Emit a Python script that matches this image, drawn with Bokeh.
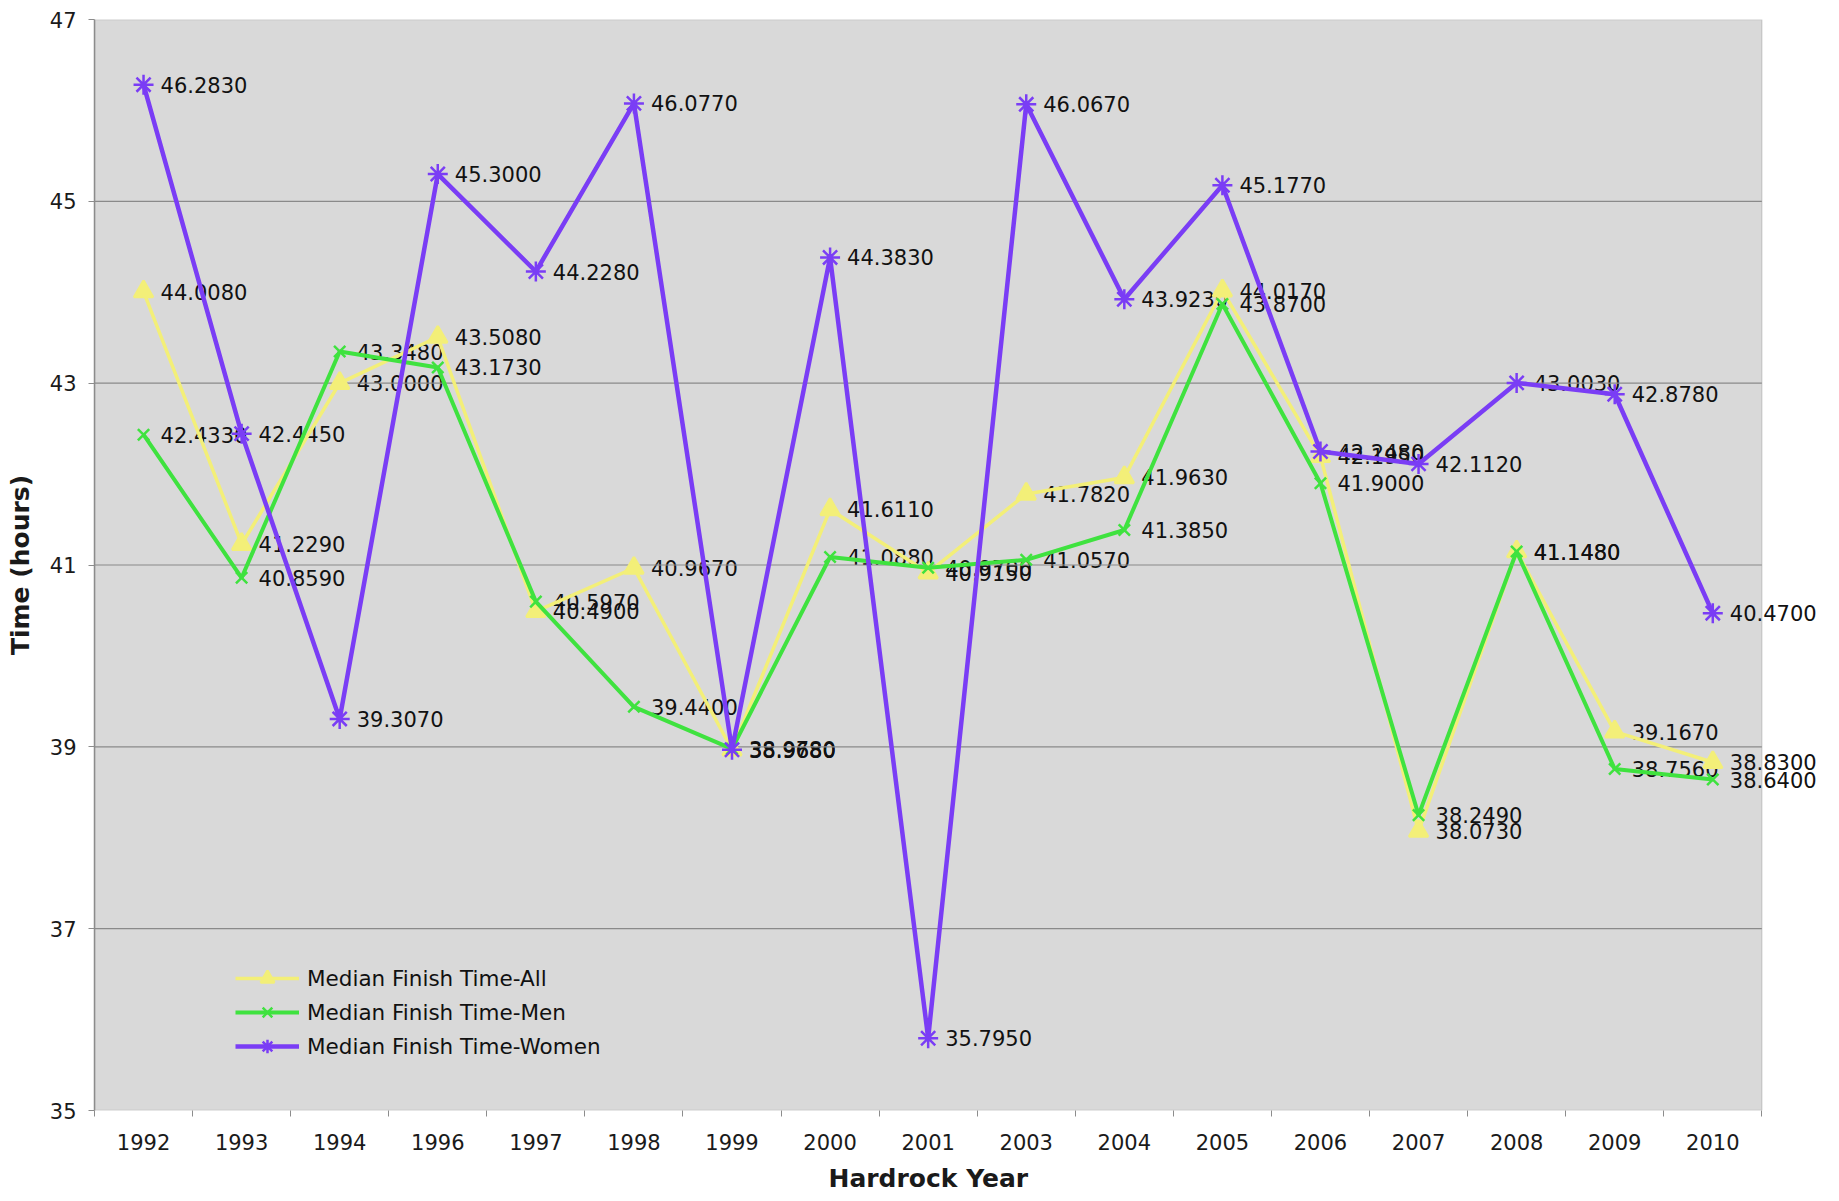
from bokeh.plotting import figure
from bokeh.models import (ColumnDataSource, LabelSet, Legend, LegendItem, Range1d,
                          FixedTicker, BoxAnnotation, Title)
from bokeh.core.properties import value
from bokeh.embed import file_html
from bokeh.resources import INLINE

years = ["1992", "1993", "1994", "1996", "1997", "1998", "1999", "2000", "2001",
         "2003", "2004", "2005", "2006", "2007", "2008", "2009", "2010"]
all_times = [44.008, 41.229, 43.000, 43.508, 40.490, 40.967, 38.968, 41.611, 40.915,
             41.782, 41.963, 44.017, 42.195, 38.073, 41.148, 39.167, 38.830]
men_times = [42.433, 40.859, 43.348, 43.173, 40.597, 39.440, 38.978, 41.088, 40.970,
             41.057, 41.385, 43.870, 41.900, 38.249, 41.148, 38.756, 38.640]
women_times = [46.283, 42.445, 39.307, 45.300, 44.228, 46.077, 38.968, 44.383, 35.795,
               46.067, 43.923, 45.177, 42.248, 42.112, 43.003, 42.878, 40.470]
y_ticks = [35, 37, 39, 41, 43, 45, 47]
y_min, y_max = 35, 47

series = [
    ("Median Finish Time-All", all_times, "#f3ef78", "triangle", 19, 3.5),
    ("Median Finish Time-Men", men_times, "#3fe23f", "x", 16, 4),
    ("Median Finish Time-Women", women_times, "#7a3df5", "asterisk", 20, 4.5),
]

FONT = "DejaVu Sans"
n = len(years)
# category slots: each year occupies one unit, centred on i + 0.5
x_pos = [i + 0.5 for i in range(n)]
x_end = n + 0.69  # extra white room on the right for overflowing value labels

p = figure(width=1835, height=1201, x_range=Range1d(0, x_end),
           y_range=Range1d(y_min, y_max), output_backend="svg", toolbar_location=None,
           min_border_left=94, min_border_right=6, min_border_top=19, min_border_bottom=89)
p.background_fill_color = "white"
p.border_fill_color = "white"
p.outline_line_color = None
p.xgrid.grid_line_color = None
p.ygrid.grid_line_color = None

# grey plot area
p.add_layout(BoxAnnotation(left=0, right=n, bottom=y_min, top=y_max,
                           fill_color="#d9d9d9", fill_alpha=1.0,
                           line_color="#8c8c8c", line_width=1.5, level="underlay"))

# horizontal gridlines only across the grey area
inner = [t for t in y_ticks if y_min < t < y_max]
p.segment(x0=[0] * len(inner), x1=[n] * len(inner), y0=inner, y1=inner,
          line_color="#8a8a8a", line_width=1.2)

p.xaxis.ticker = FixedTicker(ticks=x_pos, minor_ticks=list(range(n + 1)))
p.xaxis.major_label_overrides = {x: y for x, y in zip(x_pos, years)}
p.yaxis.ticker = FixedTicker(ticks=y_ticks)

for ax in (p.xaxis[0], p.yaxis[0]):
    ax.major_label_text_font = FONT
    ax.major_label_text_font_size = "21px"
    ax.major_label_text_color = "#1a1a1a"
    ax.axis_label_text_font = FONT
    ax.axis_label_text_font_style = "bold"
    ax.axis_label_text_font_size = "25px"
    ax.axis_label_text_color = "#1a1a1a"

p.xaxis.axis_line_color = None
p.xaxis.major_tick_line_color = None
p.xaxis.major_tick_out = 0
p.xaxis.major_tick_in = 0
p.xaxis.minor_tick_line_color = "#8c8c8c"
p.xaxis.minor_tick_out = 6
p.xaxis.minor_tick_in = 0
p.xaxis.major_label_standoff = 17

p.yaxis.axis_line_color = "#8c8c8c"
p.yaxis.axis_line_width = 1.5
p.yaxis.minor_tick_line_color = None
p.yaxis.major_tick_line_color = "#8c8c8c"
p.yaxis.major_tick_out = 6
p.yaxis.major_tick_in = 0
p.yaxis.major_label_standoff = 12
p.yaxis.axis_label = "Time (hours)"
p.yaxis.axis_label_standoff = 12

# x-axis title centred under the grey plot area (not the whole frame)
p.add_layout(Title(text="Hardrock Year", align="left", offset=734, standoff=18,
                   text_font=FONT, text_font_style="bold", text_font_size="25px",
                   text_color="#1a1a1a"), "below")

for name, vals, color, marker, size, lw in series:
    src = ColumnDataSource(dict(x=x_pos, val=vals, txt=["%.4f" % v for v in vals]))
    p.add_layout(LabelSet(x="x", y="val", text="txt", source=src, x_offset=17,
                          text_baseline="middle", text_font=value(FONT),
                          text_font_size="21px", text_color="#111111", level="underlay"))

items = []
for name, vals, color, marker, size, lw in series:
    src = ColumnDataSource(dict(x=x_pos, val=vals))
    r1 = p.line("x", "val", source=src, line_color=color, line_width=lw)
    r2 = p.scatter("x", "val", source=src, marker=marker, size=size,
                   line_color=color, fill_color=color, line_width=2.5)
    items.append(LegendItem(label=name, renderers=[r1, r2]))

legend = Legend(items=items, location=(141, 47), background_fill_alpha=0,
                border_line_color=None, glyph_width=64, glyph_height=34,
                label_height=34, label_standoff=8, spacing=0, padding=0, margin=0,
                label_text_font=FONT, label_text_font_size="21.5px",
                label_text_color="#111111")
p.add_layout(legend)

open("out.html", "w").write(file_html(p, INLINE))
